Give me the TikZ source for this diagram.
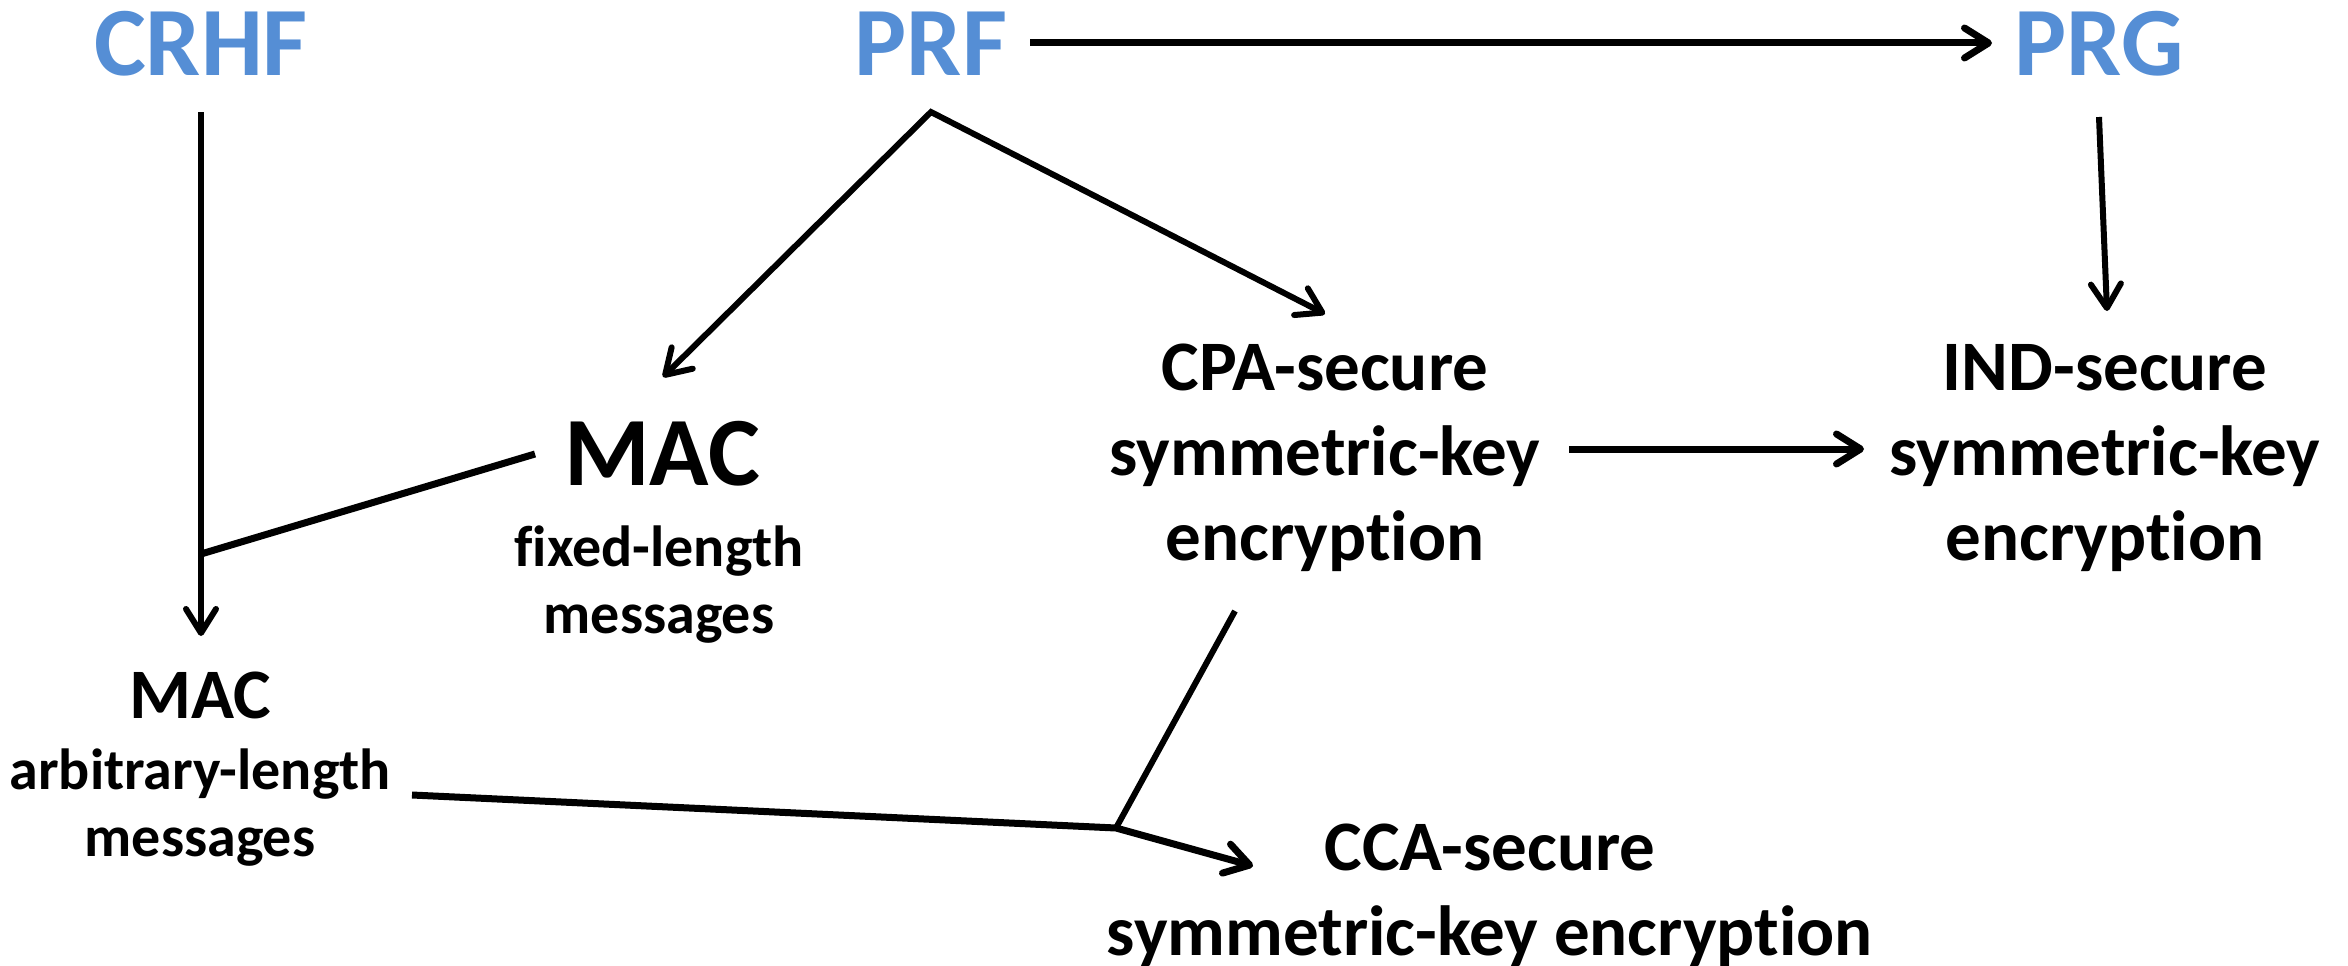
\documentclass[tikz,border=0pt]{standalone}
\usepackage{fontspec}
\setmainfont{Carlito}[Ligatures=NoCommon]
\usetikzlibrary{arrows.meta}
\definecolor{titleblue}{RGB}{85,142,213}
\begin{document}
\begin{tikzpicture}[x=1pt,y=1pt,
  lbl/.style={inner sep=0pt, outer sep=0pt, align=center, anchor=base},
  bigtxt/.style={lbl, font=\bfseries\fontsize{98}{98}\selectfont},
  bluetxt/.style={bigtxt, text=titleblue},
  medtxt/.style={lbl, font=\bfseries\fontsize{71}{85}\selectfont},
  smalltxt/.style={lbl, font=\bfseries\fontsize{58}{67}\selectfont},
  conn/.style={line width=7pt, line join=miter},
  thinconn/.style={line width=6pt},
  barb/.tip={Straight Barb[round,length=24pt,width=30pt]},
  tip/.style={-barb}
]
\useasboundingbox (0,0) rectangle (2348,-966);

\node[bluetxt] (crhf) at (201,-76) {CRHF};
\node[bluetxt] (prf) at (931,-75) {PRF};
\node[bluetxt] (prg) at (2099,-75) {PRG};

\node[bigtxt] (mac) at (662,-485) {MAC};
\node[smalltxt] (macsub) at (659,-633) {fixed-length\\messages};

\node[medtxt] (maca) at (200,-718) {MAC};
\node[smalltxt] (macasub) at (200,-856) {arbitrary-length\\messages};

\node[medtxt] (cpa) at (1325,-560) {CPA-secure\\symmetric-key\\encryption};
\node[medtxt] (ind) at (2105,-560) {IND-secure\\symmetric-key\\encryption};
\node[medtxt] (cca) at (1490,-955) {CCA-secure\\symmetric-key encryption};

\coordinate (j1) at (201,-554);
\coordinate (j2) at (1116,-828);

% PRF -> PRG
\draw[conn,tip] ([shift={(99,32)}]prf.base) -- ([shift={(-107,32)}]prg.base);
% PRF -> MAC and PRF -> CPA
\draw[thinconn,line join=miter,barb-barb]
  ([shift={(1,108)}]mac.base) -- ([shift={(0,-37)}]prf.base) -- ([shift={(0,246)}]cpa.base);
% CRHF -> MAC arbitrary
\draw[thinconn,tip] ([shift={(0,-36)}]crhf.base) -- ([shift={(1,82)}]maca.base);
\draw[conn] ([shift={(-127,31)}]mac.base) -- (j1);
% PRG -> IND
\draw[thinconn,tip] ([shift={(0,-42)}]prg.base) -- ([shift={(2,249)}]ind.base);
% CPA -> IND
\draw[conn,tip] ([shift={(244,111)}]cpa.base) -- ([shift={(-241,111)}]ind.base);
% MAC arbitrary + CPA -> CCA
\draw[conn,tip] ([shift={(212,61)}]macasub.base) -- (j2) -- ([shift={(-237,89)}]cca.base);
\draw[thinconn] ([shift={(-90,-51)}]cpa.base) -- (j2);
\end{tikzpicture}
\end{document}
